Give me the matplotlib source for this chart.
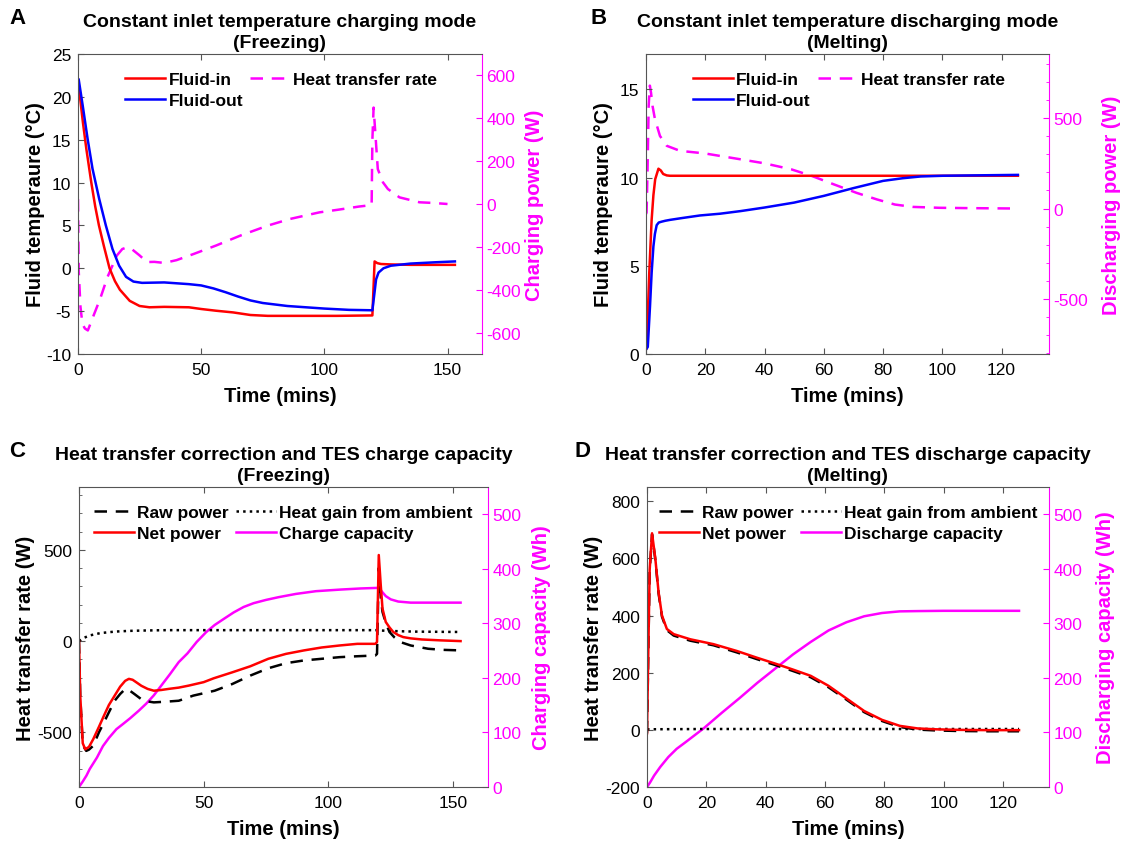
import numpy as np
import matplotlib
matplotlib.use("Agg")
import matplotlib.pyplot as plt
from matplotlib.ticker import MultipleLocator

plt.rcParams['font.family'] = ['Liberation Sans', 'DejaVu Sans']
plt.rcParams['axes.unicode_minus'] = False

RED = '#ff0000'
BLUE = '#0000ff'
MAG = '#ff00ff'
SPINE = '#555555'

# ---------------- panel A : charging (freezing) ----------------
a_in_t = [0, 1, 2, 3.4, 5.4, 7, 8.5, 10.5, 12.8, 15, 17, 21, 25, 29, 35, 45, 50, 56, 63, 70, 77, 90,
          105, 119.5, 120.4, 121.5, 123, 127, 135, 145, 153]
a_in_T = [22, 19.5, 17, 13.9, 10, 7.2, 5, 2.6, 0, -1.5, -2.5, -3.8, -4.4, -4.55, -4.5, -4.55, -4.75, -4.95,
          -5.15, -5.45, -5.55, -5.55, -5.55, -5.5, 0.8, 0.6, 0.5, 0.45, 0.4, 0.4, 0.4]
a_out_t = [0.3, 1.9, 3.9, 5.9, 8.6, 11.3, 14, 16.7, 19.5, 22.5, 26, 35, 45, 50, 55, 60, 65, 70, 75, 85,
           100, 110, 119.5, 120.3, 121, 122, 124, 127, 135, 145, 153]
a_out_T = [22, 19, 15.1, 11.6, 8.1, 5, 2.25, 0.3, -1.0, -1.55, -1.7, -1.65, -1.85, -2.0, -2.35, -2.8, -3.3,
           -3.75, -4.05, -4.4, -4.7, -4.85, -4.9, -3.0, -1.3, -0.5, 0.0, 0.3, 0.55, 0.7, 0.8]
a_q_t = [0, 0.3, 1, 1.8, 2.8, 4, 6, 9, 12, 15.8, 18, 20, 22, 25, 28, 31, 35, 40, 47, 56, 66, 77, 86, 98,
         106, 114, 119.2, 119.5, 120, 120.7, 121.7, 123.8, 125.8, 130.5, 138.6, 144, 150]
a_q_W = [23, -316, -480, -560, -581, -590, -530, -442, -340, -240, -210, -202, -212, -240, -271, -270, -275,
         -262, -233, -194, -147, -101, -70, -39, -26, -12, -5, 300, 450, 330, 163, 101, 70, 31, 8, 5, 0]

# ---------------- panel B : discharging (melting) ----------------
b_in_t = [0, 0.2, 1.1, 1.9, 2.5, 3.1, 4.2, 5, 5.8, 7, 8.1, 20, 40, 60, 80, 100, 125.5]
b_in_T = [0.5, 0.3, 4.6, 7.6, 9.0, 9.9, 10.5, 10.4, 10.2, 10.12, 10.1, 10.1, 10.1, 10.1, 10.1, 10.1, 10.1]
b_out_t = [0.2, 0.6, 1.35, 1.9, 2.5, 3.0, 3.6, 4.3, 5.3, 6.5, 8.1, 12, 18.2, 25, 32, 40, 50, 60, 70, 80,
           86.6, 92.7, 100, 110, 125.5]
b_out_T = [0.3, 0.4, 2.7, 4.6, 6.1, 6.8, 7.3, 7.45, 7.5, 7.55, 7.6, 7.7, 7.85, 7.95, 8.1, 8.3, 8.58, 8.96,
           9.4, 9.81, 9.96, 10.06, 10.1, 10.12, 10.15]
b_q_t = [0, 0.2, 0.5, 0.9, 1.3, 1.7, 2.2, 3.0, 4.7, 7.0, 11.5, 19.8, 32, 40, 49, 56, 63.5, 71, 78, 84, 90,
         99, 110, 125]
b_q_W = [-30, -22, 200, 568, 680, 640, 568, 496, 402, 347, 319, 305, 272, 250, 217, 180, 133, 87, 50, 22, 9,
         4, 2, 0]

# ---------------- panel C : charge correction ----------------
c_net_t = [0, 0.5, 1.5, 2.5, 4, 5.7, 8, 10, 12, 14.3, 16.5, 18.5, 20, 21.5, 23, 25, 27.5, 30, 33, 36, 40, 44,
           50, 54, 61.5, 68.7, 75.9, 83, 90.2, 97.3, 104.5, 111.6, 118.8, 119.5, 120.2, 121, 121.7, 123,
           124.5, 126, 128, 130, 133, 137.4, 145, 153]
c_net_W = [0, -300, -560, -593, -580, -538, -470, -409, -350, -299, -250, -218, -207, -212, -226, -245,
           -262, -272, -268, -262, -255, -244, -225, -204, -171, -138, -97, -70, -51, -35, -24, -15, -15, -5,
           472, 306, 178, 105, 75, 50, 33, 22, 15, 9, 4, 0]
c_raw_t = [0, 0.5, 1.5, 2.9, 4, 5.7, 8, 10, 12, 14.3, 16.5, 18.6, 20, 22.2, 25.8, 30, 35, 40, 45.8, 54.4,
           61.5, 68.7, 75.9, 83, 90.2, 97.3, 104.5, 111.6, 118.8, 119.5, 120.2, 121, 121.7, 123, 124.5,
           126.5, 128.8, 133, 140, 146, 153]
c_raw_W = [0, -300, -570, -602, -595, -574, -500, -446, -390, -327, -290, -262, -268, -290, -327, -336, -332,
           -327, -299, -272, -235, -189, -149, -121, -106, -97, -88, -83, -79, -70, 400, 240, 160, 100, 50,
           20, -5, -24, -42, -48, -51]
c_amb_t = [0, 2, 4.3, 8.6, 14.3, 20, 25.8, 35, 50, 80, 119, 121, 126, 135, 153]
c_amb_W = [0, 18, 31, 44, 52, 56, 58, 60, 60, 60, 60, 58, 55, 52, 50]
c_cap_t = [0, 1.5, 3, 4.3, 7.2, 9.6, 12, 15, 17.5, 20.5, 24, 27, 30, 33, 36.5, 40, 43.5, 47.2, 51, 54.4, 58,
           62, 66, 70, 75, 80, 87, 95, 105, 113, 119.5, 120.5, 121.5, 123, 125, 128, 133, 140, 153]
c_cap_Wh = [0, 10, 21, 33, 54, 75, 90, 106, 115, 126, 140, 153, 168, 186, 207, 229, 245, 266, 284, 297, 308,
            320, 330, 337, 343, 348, 354, 359, 362, 364, 365, 364, 358, 350, 344, 340, 338, 338, 338]

# ---------------- panel D : discharge correction ----------------
d_net_t = [0, 0.4, 0.9, 1.7, 2.8, 3.9, 5.05, 6.7, 9, 14.6, 22.4, 30.3, 37.2, 43.2, 49.2, 55.2, 61.2, 67.2,
           73.2, 79.2, 85.2, 91.2, 97.2, 105, 115, 125.4]
d_net_W = [-12, 250, 560, 688, 600, 482, 400, 353, 335, 317, 300, 276, 252, 232, 211, 189, 154, 110, 66, 35,
           14, 5, 2, 0, -1, -1]
d_raw_W = [-12, 245, 555, 684, 596, 478, 396, 349, 330, 312, 296, 271, 247, 227, 206, 184, 149, 106, 62, 31,
           10, 1, -2, -4, -5, -5]
d_amb_t = [0, 20, 60, 100, 125.4]
d_amb_W = [2, 3, 3, 3, 3]
d_cap_t = [0, 1, 2.4, 4.5, 7.2, 10, 13.2, 19.2, 25.2, 31.2, 37.2, 43.2, 49.2, 55.2, 61.2, 67.2, 73.2, 79.2,
           85.2, 91.2, 100, 110, 125.4]
d_cap_Wh = [0, 8, 21, 37, 55, 70, 83, 108, 136, 163, 191, 217, 243, 266, 287, 302, 313, 319, 322, 322.5,
            323, 323, 323]

W, H = 1127, 845
fig = plt.figure(figsize=(W / 100, H / 100), dpi=100)

TITLE_FS = 14
LAB_FS = 14.5
LEG_FS = 12.5
TFS = 12.5
DASH = (5, 3.5)


def style(ax, ax2):
    for s in ['left', 'bottom', 'top']:
        ax.spines[s].set_color(SPINE)
    ax.spines['right'].set_visible(False)
    ax2.spines['right'].set_color(MAG)
    for s in ['left', 'bottom', 'top']:
        ax2.spines[s].set_visible(False)
    ax.tick_params(axis='x', direction='in', top=True, length=4, color=SPINE, labelsize=TFS, pad=6)
    ax.tick_params(axis='y', direction='in', right=False, length=4, color=SPINE, labelsize=TFS, pad=5)
    ax.tick_params(axis='y', which='minor', direction='in', length=2.5, color=SPINE)
    ax2.tick_params(axis='y', which='both', direction='in', colors=MAG, labelsize=TFS, length=4, pad=3)
    ax2.tick_params(axis='y', which='minor', length=2.5)
    ax.set_xlabel('Time (mins)', fontsize=LAB_FS, fontweight='bold', labelpad=6)


def panel(px, letter, letter_xy, title):
    # px = left, top, right, bottom in pixels of the reference
    l, t, r, b = px
    ax = fig.add_axes([l / W, 1 - b / H, (r - l) / W, (b - t) / H])
    ax2 = ax.twinx()
    ax.set_zorder(ax2.get_zorder() + 1)
    ax.patch.set_visible(False)
    ax.set_title(title, fontsize=TITLE_FS, fontweight='bold', pad=5, linespacing=1.3)
    fig.text(letter_xy[0] / W, 1 - letter_xy[1] / H, letter, fontsize=16, fontweight='bold',
             ha='left', va='center')
    return ax, ax2


def legend(ax, handles, x):
    ax.legend(handles=handles, ncol=2, frameon=False, loc='upper left', bbox_to_anchor=(x, 0.97),
              prop={'weight': 'bold', 'size': LEG_FS}, handlelength=2.3, handletextpad=0.2,
              columnspacing=0.4, labelspacing=0.35, borderpad=0)


# ----- A -----
ax, ax2 = panel((78, 55, 482, 355), 'A', (9, 18),
                'Constant inlet temperature charging mode\n(Freezing)')
ax2.plot(a_q_t, a_q_W, '--', color=MAG, lw=1.8, dashes=DASH)
l1, = ax.plot(a_in_t, a_in_T, color=RED, lw=1.8, label='Fluid-in')
l2, = ax.plot(a_out_t, a_out_T, color=BLUE, lw=1.8, label='Fluid-out')
l3, = ax.plot([], [], '--', color=MAG, lw=1.8, dashes=DASH, label='Heat transfer rate')
ax.set_xlim(0, 164)
ax.set_ylim(-10, 25)
ax.set_xticks([0, 50, 100, 150])
ax.set_yticks(np.arange(-10, 26, 5))
ax2.set_ylim(-700, 700)
ax2.set_yticks(np.arange(-600, 601, 200))
ax.set_ylabel('Fluid temperaure (°C)', fontsize=LAB_FS, fontweight='bold', labelpad=1)
ax2.set_ylabel('Charging power (W)', fontsize=LAB_FS, fontweight='bold', color=MAG, labelpad=3)
style(ax, ax2)
legend(ax, [l1, l2, l3], 0.095)

# ----- B -----
ax, ax2 = panel((646, 55, 1049, 355), 'B', (590, 18),
                'Constant inlet temperature discharging mode\n(Melting)')
ax2.plot(b_q_t, b_q_W, '--', color=MAG, lw=1.8, dashes=DASH)
l1, = ax.plot(b_in_t, b_in_T, color=RED, lw=1.8, label='Fluid-in')
l2, = ax.plot(b_out_t, b_out_T, color=BLUE, lw=1.8, label='Fluid-out')
l3, = ax.plot([], [], '--', color=MAG, lw=1.8, dashes=DASH, label='Heat transfer rate')
ax.set_xlim(0, 136)
ax.set_ylim(0, 17)
ax.set_xticks(np.arange(0, 121, 20))
ax.set_yticks([0, 5, 10, 15])
ax2.set_ylim(-805, 855)
ax2.set_yticks([-500, 0, 500])
ax2.yaxis.set_minor_locator(MultipleLocator(100))
ax.set_ylabel('Fluid temperaure (°C)', fontsize=LAB_FS, fontweight='bold', labelpad=5)
ax2.set_ylabel('Discharging power (W)', fontsize=LAB_FS, fontweight='bold', color=MAG, labelpad=10)
style(ax, ax2)
legend(ax, [l1, l2, l3], 0.095)

# ----- C -----
ax, ax2 = panel((79, 488, 488, 788), 'C', (9, 452),
                'Heat transfer correction and TES charge capacity\n(Freezing)')
ax2.plot(c_cap_t, c_cap_Wh, color=MAG, lw=1.8)
l1, = ax.plot(c_raw_t, c_raw_W, '--', color='black', lw=1.8, dashes=DASH, label='Raw power')
l3, = ax.plot(c_amb_t, c_amb_W, ':', color='black', lw=1.8, label='Heat gain from ambient')
l2, = ax.plot(c_net_t, c_net_W, color=RED, lw=1.8, label='Net power')
l4, = ax.plot([], [], color=MAG, lw=1.8, label='Charge capacity')
ax.set_xlim(0, 164)
ax.set_ylim(-800, 845)
ax.set_xticks([0, 50, 100, 150])
ax.set_yticks([-500, 0, 500])
ax.yaxis.set_minor_locator(MultipleLocator(100))
ax2.set_ylim(0, 550)
ax2.set_yticks(np.arange(0, 501, 100))
ax.set_ylabel('Heat transfer rate (W)', fontsize=LAB_FS, fontweight='bold', labelpad=2)
ax2.set_ylabel('Charging capacity (Wh)', fontsize=LAB_FS, fontweight='bold', color=MAG, labelpad=8)
style(ax, ax2)
legend(ax, [l1, l2, l3, l4], 0.015)

# ----- D -----
ax, ax2 = panel((647, 488, 1049, 788), 'D', (575, 452),
                'Heat transfer correction and TES discharge capacity\n(Melting)')
ax2.plot(d_cap_t, d_cap_Wh, color=MAG, lw=1.8)
l1, = ax.plot(d_net_t, d_raw_W, '--', color='black', lw=1.8, dashes=DASH, label='Raw power')
l3, = ax.plot(d_amb_t, d_amb_W, ':', color='black', lw=1.8, label='Heat gain from ambient')
l2, = ax.plot(d_net_t, d_net_W, color=RED, lw=1.8, label='Net power')
l4, = ax.plot([], [], color=MAG, lw=1.8, label='Discharge capacity')
ax.set_xlim(0, 135.5)
ax.set_ylim(-200, 850)
ax.set_xticks(np.arange(0, 121, 20))
ax.set_yticks(np.arange(-200, 801, 200))
ax2.set_ylim(0, 550)
ax2.set_yticks(np.arange(0, 501, 100))
ax.set_ylabel('Heat transfer rate (W)', fontsize=LAB_FS, fontweight='bold', labelpad=2)
ax2.set_ylabel('Discharging capacity (Wh)', fontsize=LAB_FS, fontweight='bold', color=MAG, labelpad=10)
style(ax, ax2)
legend(ax, [l1, l2, l3, l4], 0.008)

fig.savefig('out.png', dpi=100)
